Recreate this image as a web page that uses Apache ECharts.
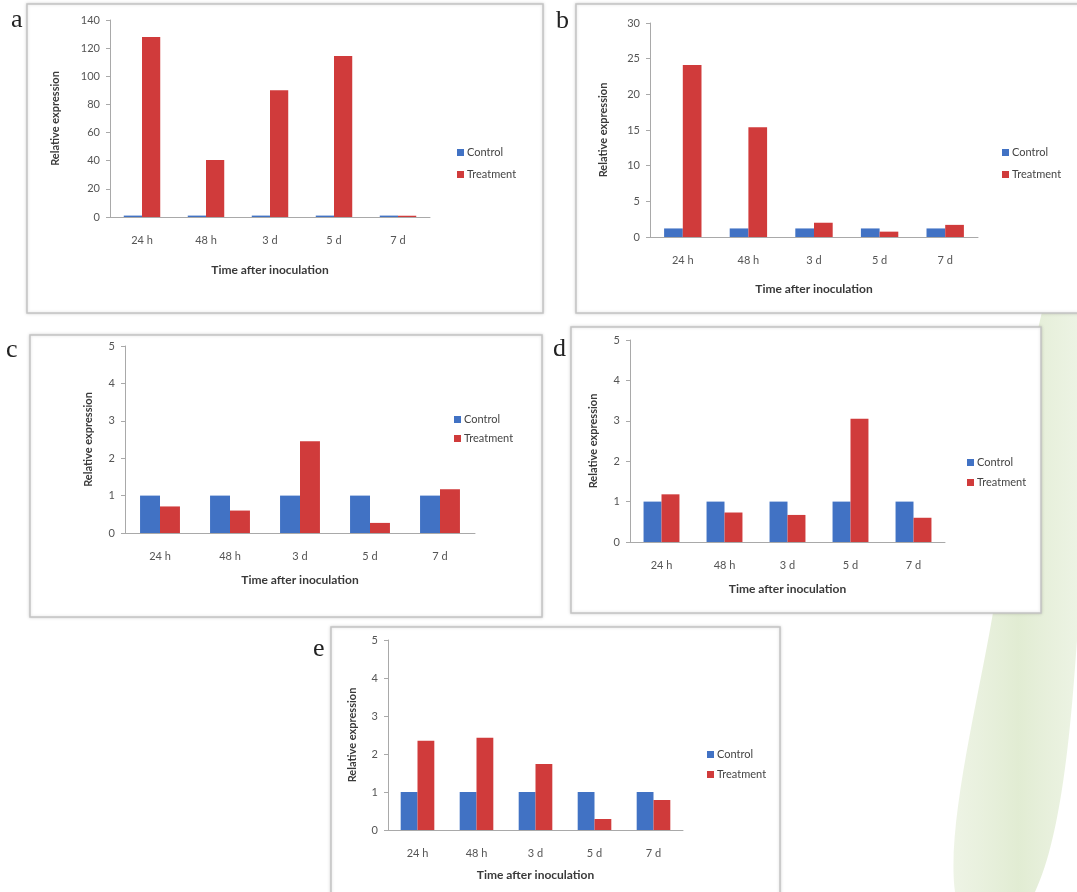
<!DOCTYPE html>
<html>
<head>
<meta charset="utf-8">
<title>Relative expression</title>
<script src="https://cdn.jsdelivr.net/npm/echarts@6/dist/echarts.min.js"></script>
<style>
html, body { margin: 0; padding: 0; background: #fff; }
#main { width: 1077px; height: 892px; }
</style>
</head>
<body>
<div id="main"></div>
<script>
// categories shared by all five panels
var categories = ['24 h', '48 h', '3 d', '5 d', '7 d'];

// panel a
var controlA = [1, 1, 1, 1, 1];
var treatmentA = [128, 40.5, 90, 114.5, 0.9];
// panel b
var controlB = [1.2, 1.2, 1.2, 1.2, 1.2];
var treatmentB = [24.1, 15.4, 2.0, 0.75, 1.7];
// panel c
var controlC = [1, 1, 1, 1, 1];
var treatmentC = [0.71, 0.6, 2.45, 0.27, 1.17];
// panel d
var controlD = [1, 1, 1, 1, 1];
var treatmentD = [1.18, 0.73, 0.67, 3.05, 0.6];
// panel e
var controlE = [1, 1, 1, 1, 1];
var treatmentE = [2.35, 2.43, 1.74, 0.29, 0.79];

// y axis ticks of each panel
var yMax = [140, 30, 5, 5, 5];
var yStep = [20, 5, 1, 1, 1];

var controls = [controlA, controlB, controlC, controlD, controlE];
var treatments = [treatmentA, treatmentB, treatmentC, treatmentD, treatmentE];

// layout of the five panels
var panels = [
  { letter: 'a', grid: { left: 110, top: 20, width: 320, height: 197 }, yGap: 49, xGap: 47,
    legend: { left: 452, top: 142, gap: 11 }, box: [27, 4, 516, 309], pos: [11, 7] },
  { letter: 'b', grid: { left: 650, top: 23, width: 328, height: 214 }, yGap: 41, xGap: 46,
    legend: { left: 997, top: 142, gap: 11 }, box: [576, 4, 510, 309], pos: [556, 8] },
  { letter: 'c', grid: { left: 125, top: 346, width: 350, height: 187 }, yGap: 31, xGap: 41,
    legend: { left: 449, top: 409, gap: 8 }, box: [30, 335, 512, 282], pos: [6, 337] },
  { letter: 'd', grid: { left: 630, top: 340, width: 315, height: 202 }, yGap: 31, xGap: 41,
    legend: { left: 962, top: 452, gap: 9 }, box: [571, 327, 470, 286], pos: [553, 336] },
  { letter: 'e', grid: { left: 388, top: 640, width: 295, height: 190 }, yGap: 30, xGap: 39,
    legend: { left: 702, top: 744, gap: 9 }, box: [331, 627, 449, 290], pos: [313, 636] }
];

var blue = '#4172c4';
var red = '#d03b3b';
var axisColor = '#a9a9a9';
var textColor = '#555';
var font = 'Lato';

var grids = [], xAxes = [], yAxes = [], series = [], legends = [], graphics = [];

// faint green watermark on the right edge
graphics.push({
  type: 'polygon', z: -30,
  shape: { points: [[1045, 300], [1077, 290], [1077, 640], [1035, 892], [955, 892], [995, 600]], smooth: 0.3 },
  style: {
    fill: new echarts.graphic.LinearGradient(0, 0, 1, 0, [
      { offset: 0, color: 'rgba(226,236,212,0.6)' },
      { offset: 0.5, color: 'rgba(222,234,206,0.9)' },
      { offset: 1, color: 'rgba(230,239,218,0.7)' }
    ])
  }
});

panels.forEach(function (p, i) {
  grids.push({ left: p.grid.left, top: p.grid.top, width: p.grid.width, height: p.grid.height });
  xAxes.push({
    type: 'category', gridIndex: i, data: categories,
    name: 'Time after inoculation', nameLocation: 'middle', nameGap: p.xGap,
    nameTextStyle: { fontFamily: font, fontWeight: 'bold', fontSize: 12, color: '#3a3a3a' },
    axisLine: { lineStyle: { color: axisColor } },
    axisTick: { lineStyle: { color: axisColor }, length: 4 },
    axisLabel: { fontFamily: font, fontSize: 11, color: textColor, margin: 18 }
  });
  yAxes.push({
    type: 'value', gridIndex: i, min: 0, max: yMax[i], interval: yStep[i],
    name: 'Relative expression', nameLocation: 'middle', nameGap: p.yGap,
    nameTextStyle: { fontFamily: font, fontWeight: 'bold', fontSize: 11, color: '#3a3a3a' },
    axisLine: { show: true, lineStyle: { color: axisColor } },
    axisTick: { show: true, lineStyle: { color: axisColor }, length: 4 },
    axisLabel: { fontFamily: font, fontSize: 11, color: textColor, margin: 10 },
    splitLine: { show: false }
  });
  series.push({
    name: 'Control', type: 'bar', xAxisIndex: i, yAxisIndex: i,
    data: controls[i], itemStyle: { color: blue },
    barGap: '0%', barCategoryGap: '43%'
  });
  series.push({
    name: 'Treatment', type: 'bar', xAxisIndex: i, yAxisIndex: i,
    data: treatments[i], itemStyle: { color: red },
    barGap: '0%', barCategoryGap: '43%'
  });
  legends.push({
    orient: 'vertical', left: p.legend.left, top: p.legend.top, itemGap: p.legend.gap,
    itemWidth: 7, itemHeight: 7, icon: 'rect',
    data: ['Control', 'Treatment'],
    textStyle: { fontFamily: font, fontSize: 11, color: '#444', padding: [0, 0, 0, -2] }
  });
  // panel frame
  graphics.push({
    type: 'rect', z: -10,
    shape: { x: p.box[0], y: p.box[1], width: p.box[2], height: p.box[3] },
    style: { fill: '#fff', stroke: '#c4c4c4', lineWidth: 1.5, shadowBlur: 3, shadowColor: 'rgba(0,0,0,0.15)' }
  });
  // panel letter
  graphics.push({
    type: 'text', z: 10, x: p.pos[0], y: p.pos[1],
    style: { text: p.letter, font: '26px "Liberation Serif"', fill: '#222', verticalAlign: 'top' }
  });
});

var myChart = echarts.init(document.getElementById('main'));
myChart.setOption({
  animation: false,
  backgroundColor: '#fff',
  grid: grids,
  xAxis: xAxes,
  yAxis: yAxes,
  legend: legends,
  series: series,
  graphic: graphics
});
</script>
</body>
</html>
